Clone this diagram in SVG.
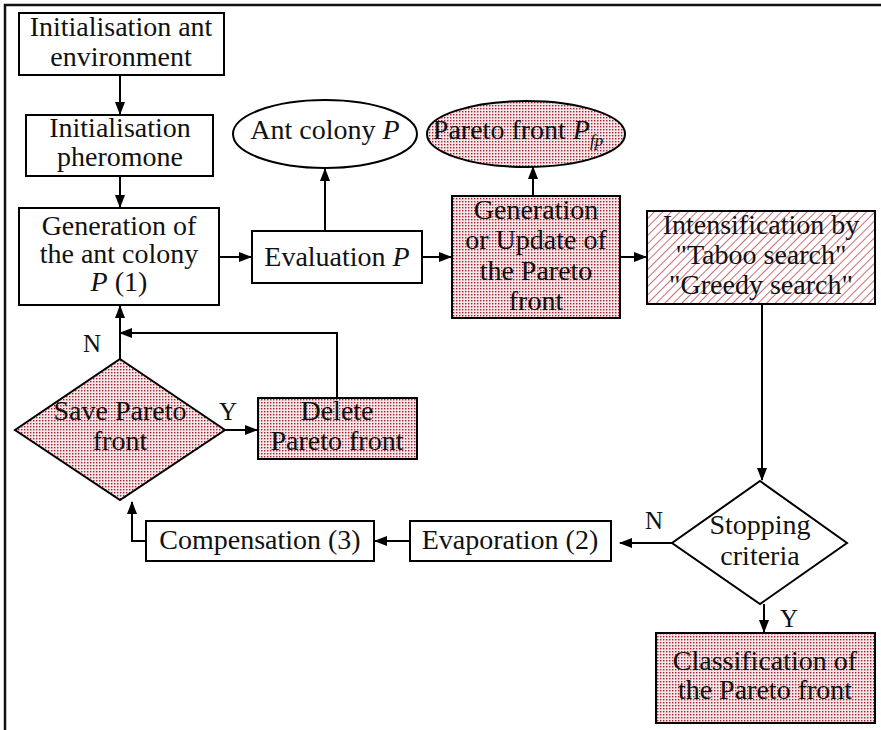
<svg xmlns="http://www.w3.org/2000/svg" width="881" height="730" viewBox="0 0 881 730">
  <style>
    .box { fill: #ffffff; stroke: #000; stroke-width: 2; }
    .dot { fill: url(#dots); stroke: #000; stroke-width: 2; }
    .hatch { fill: url(#hatch); stroke: #000; stroke-width: 2; }
    .lbl { font-family: 'Liberation Serif', 'DejaVu Serif', serif; font-size: 28px; fill: #111; text-anchor: middle; }
    .yn { font-family: 'Liberation Serif', 'DejaVu Serif', serif; font-size: 25px; fill: #111; }
    .wire { fill: none; stroke: #000; stroke-width: 2; }
    .frame { fill: none; stroke: #111; stroke-width: 2.5; }
  </style>
  <defs>
    <pattern id="dots" width="3" height="3" patternUnits="userSpaceOnUse">
      <rect width="3" height="3" fill="#f6e6e8"/>
      <rect width="1.4" height="1.4" fill="#a3202c"/>
    </pattern>
    <pattern id="hatch" width="6" height="6" patternUnits="userSpaceOnUse" patternTransform="rotate(45)">
      <rect width="6" height="6" fill="#ffffff"/>
      <line x1="0" y1="0" x2="0" y2="6" stroke="#b8303c" stroke-width="1.4"/>
    </pattern>
    <marker id="arr" markerWidth="13" markerHeight="10" refX="12" refY="5" orient="auto" markerUnits="userSpaceOnUse">
      <path d="M0,0 L13,5 L0,10 z" fill="#000"/>
    </marker>
  </defs>

  <!-- page frame -->
  <path class="frame" d="M5,730 V5 H881"/>

  <g id="connectors">
    <line class="wire" x1="120" y1="75" x2="120" y2="114" marker-end="url(#arr)"/>
    <line class="wire" x1="120" y1="176" x2="120" y2="207" marker-end="url(#arr)"/>
    <line class="wire" x1="219" y1="257" x2="251" y2="257" marker-end="url(#arr)"/>
    <line class="wire" x1="325" y1="231" x2="325" y2="169" marker-end="url(#arr)"/>
    <line class="wire" x1="422" y1="257" x2="451" y2="257" marker-end="url(#arr)"/>
    <line class="wire" x1="533" y1="196" x2="533" y2="167" marker-end="url(#arr)"/>
    <line class="wire" x1="620" y1="257" x2="646" y2="257" marker-end="url(#arr)"/>
    <line class="wire" x1="762" y1="304" x2="762" y2="480" marker-end="url(#arr)"/>
    <line class="wire" x1="672" y1="543" x2="620" y2="543" marker-end="url(#arr)"/>
    <line class="wire" x1="764" y1="604" x2="764" y2="632" marker-end="url(#arr)"/>
    <line class="wire" x1="410" y1="541" x2="375" y2="541" marker-end="url(#arr)"/>
    <polyline class="wire" points="146,541 132,541 132,502" marker-end="url(#arr)"/>
    <line class="wire" x1="120" y1="359" x2="120" y2="306" marker-end="url(#arr)"/>
    <line class="wire" x1="225" y1="430" x2="257" y2="430" marker-end="url(#arr)"/>
    <polyline class="wire" points="337,398 337,333 120,333" marker-end="url(#arr)"/>
    <text class="yn" x="83" y="352">N</text>
    <text class="yn" x="219" y="420">Y</text>
    <text class="yn" x="645" y="529">N</text>
    <text class="yn" x="780" y="627">Y</text>
  </g>

  <g id="init-env">
    <rect class="box" x="19" y="13" width="205" height="62"/>
    <text class="lbl" x="121" y="36">Initialisation ant</text>
    <text class="lbl" x="121" y="66">environment</text>
  </g>

  <g id="init-pheromone">
    <rect class="box" x="26" y="115" width="187" height="61"/>
    <text class="lbl" x="120" y="137">Initialisation</text>
    <text class="lbl" x="120" y="166">pheromone</text>
  </g>

  <g id="gen-colony">
    <rect class="box" x="19" y="208" width="200" height="97"/>
    <text class="lbl" x="119" y="235">Generation of</text>
    <text class="lbl" x="119" y="263">the ant colony</text>
    <text class="lbl" x="119" y="291"><tspan font-style="italic">P</tspan> (1)</text>
  </g>

  <g id="evaluation">
    <rect class="box" x="252" y="231" width="170" height="52"/>
    <text class="lbl" x="337" y="266">Evaluation <tspan font-style="italic">P</tspan></text>
  </g>

  <g id="ant-colony">
    <ellipse class="box" cx="325" cy="134" rx="92" ry="34"/>
    <text class="lbl" x="325" y="139">Ant colony <tspan font-style="italic">P</tspan></text>
  </g>

  <g id="pareto-front">
    <ellipse class="dot" cx="526" cy="134" rx="99" ry="33"/>
    <text class="lbl" x="518" y="139">Pareto front <tspan font-style="italic">P</tspan><tspan font-style="italic" font-size="17" dy="7">fp</tspan></text>
  </g>

  <g id="gen-update">
    <rect class="dot" x="452" y="196" width="168" height="122"/>
    <text class="lbl" x="536" y="219">Generation</text>
    <text class="lbl" x="536" y="249">or Update of</text>
    <text class="lbl" x="536" y="280">the Pareto</text>
    <text class="lbl" x="536" y="310">front</text>
  </g>

  <g id="intensification">
    <rect class="hatch" x="647" y="211" width="228" height="93"/>
    <text class="lbl" x="761" y="234">Intensification by</text>
    <text class="lbl" x="761" y="264">"Taboo search"</text>
    <text class="lbl" x="761" y="294">"Greedy search"</text>
  </g>

  <g id="stopping">
    <polygon class="box" points="760,481 847,543 760,604 672,543"/>
    <text class="lbl" x="760" y="534">Stopping</text>
    <text class="lbl" x="760" y="565">criteria</text>
  </g>

  <g id="classification">
    <rect class="dot" x="656" y="633" width="219" height="90"/>
    <text class="lbl" x="765" y="670">Classification of</text>
    <text class="lbl" x="765" y="699">the Pareto front</text>
  </g>

  <g id="evaporation">
    <rect class="box" x="410" y="521" width="201" height="40"/>
    <text class="lbl" x="510" y="549">Evaporation (2)</text>
  </g>

  <g id="compensation">
    <rect class="box" x="146" y="521" width="228" height="40"/>
    <text class="lbl" x="260" y="549">Compensation (3)</text>
  </g>

  <g id="save-pareto">
    <polygon class="dot" points="120,359 225,430 120,500 15,430"/>
    <text class="lbl" x="120" y="420">Save Pareto</text>
    <text class="lbl" x="120" y="450">front</text>
  </g>

  <g id="delete-pareto">
    <rect class="dot" x="258" y="398" width="159" height="61"/>
    <text class="lbl" x="337" y="420">Delete</text>
    <text class="lbl" x="337" y="450">Pareto front</text>
  </g>
</svg>
